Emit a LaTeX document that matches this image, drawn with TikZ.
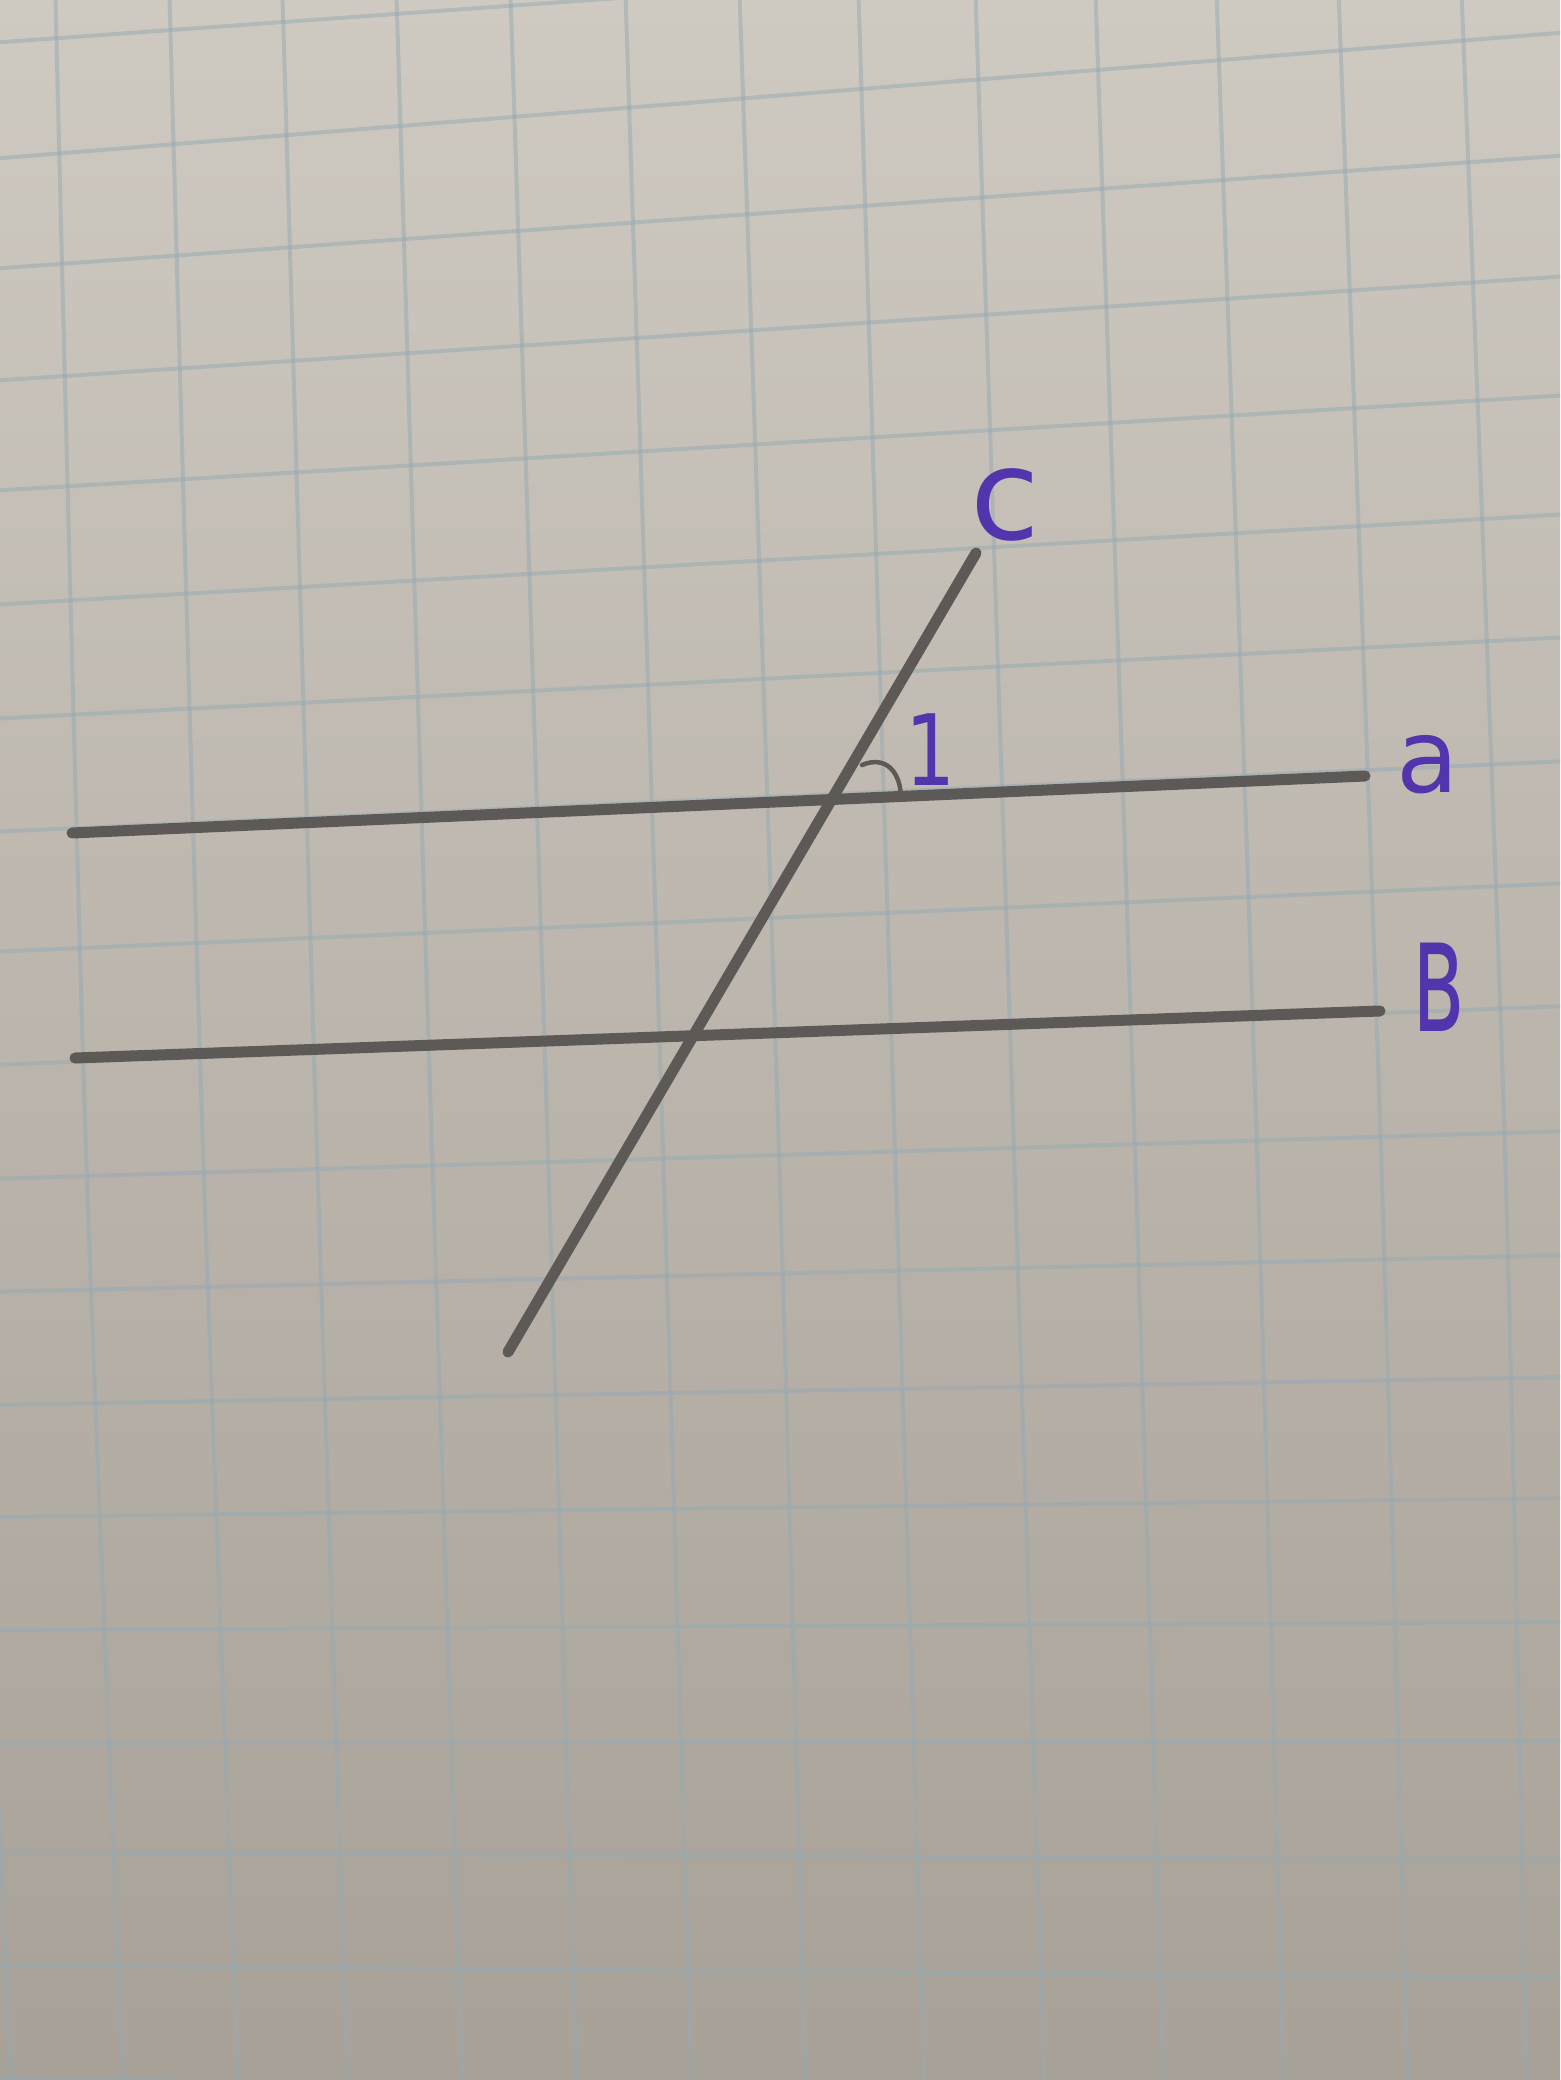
\documentclass[tikz,border=0pt]{standalone}
\usepackage{fontspec}
\newfontfamily\hand{DejaVu Sans}
\definecolor{paperTop}{RGB}{206,201,193}
\definecolor{paperMid}{RGB}{197,191,183}
\definecolor{paperBot}{RGB}{168,161,152}
\definecolor{gridc}{RGB}{150,170,178}
\definecolor{pencilc}{RGB}{92,89,86}
\definecolor{inkc}{RGB}{82,52,172}
\begin{document}
\begin{tikzpicture}[x=0.01cm,y=-0.01cm,
  gridline/.style={draw=gridc, line width=0.04cm, opacity=0.5},
  pencil/.style={draw=pencilc, line width=0.11cm, line cap=round},
  arcline/.style={draw=pencilc, line width=0.045cm, line cap=round},
  ink/.style={text=inkc, inner sep=0pt}
]
\useasboundingbox (0,0) rectangle (1560,2080);
\clip (0,0) rectangle (1560,2080);
\shade[top color=paperTop, middle color=paperMid, bottom color=paperBot] (0,0) rectangle (1560,2080);
% vertical grid lines (top x, middle x at y=1120, bottom x)
\foreach \t/\m/\b in {-60/-30/12, 55/85/124, 169/202/239, 282/316/348, 396/431/463, 510/547/577, 625/662/692, 739/778/806, 858/894/925, 975/1013/1045, 1095/1134/1164, 1216/1256/1284, 1338/1380/1408, 1461/1504/1527, 1585/1630/1650}
  \draw[gridline] plot[smooth] coordinates {(\t,-20) (\m,1120) (\b,2100)};
% horizontal grid lines (left y at x=0, right y at x=1560)
\foreach \l/\r in {43/-70, 159/32, 269/155, 381/276, 491/395, 605/514, 719/637, 832/761, 952/883, 1065/1006, 1179/1131, 1292/1255, 1405/1377, 1517/1498, 1630/1622, 1743/1741, 1852/1860, 1965/1978, 2078/2098}
  \draw[gridline] (-10,\l) -- (1570,\r);
% drawn lines
\coordinate (aL) at (72,833);
\coordinate (aR) at (1365,776);
\coordinate (bL) at (75,1058);
\coordinate (bR) at (1380,1011);
\coordinate (cB) at (508,1352);
\coordinate (cT) at (976,553);
\draw[pencil] (aL) -- (aR);
\draw[pencil] (bL) -- (bR);
\draw[pencil] (cB) -- (cT);
% angle mark
\coordinate (arcS) at (862,765);
\coordinate (arcE) at (901,799);
\draw[arcline] (arcS) .. controls (886,755) and (901,772) .. (arcE);
% labels
\node[ink, font=\hand\fontsize{36}{36}\selectfont] (lc) at (1005,505) {c};
\node[ink, font=\hand\fontsize{29}{29}\selectfont] (la) at (1428,765) {a};
\node[ink, font=\hand\fontsize{28}{28}\selectfont, xscale=0.8] (l1) at (931,750) {1};
\node[ink, font=\hand\fontsize{46}{46}\selectfont, xscale=0.55] (lb) at (1439,987) {в};
\end{tikzpicture}
\end{document}
